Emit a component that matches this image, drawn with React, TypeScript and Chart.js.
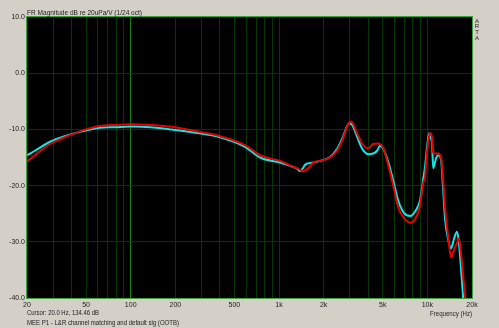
import React, { useEffect, useRef } from 'react';
import { Chart, registerables } from 'chart.js';

Chart.register(...registerables);

// Frequency points (Hz)
const freqHz = [
  20, 22.6, 28.6, 36, 46, 62, 78, 100, 135, 184, 272, 400, 590, 745, 1016, 1187, 1323, 1387, 1450, 1498,
  1618, 1697, 1891, 2209, 2462, 2703, 2876, 2968, 3050, 3158, 3360, 3631, 3986, 4308, 4582, 4802, 5030,
  5438, 5876, 6350, 6970, 7650, 8266, 8933, 9360, 9656, 9961, 10274, 10500, 10764, 10940, 11458, 11818,
  12378, 12700, 13172, 13800, 14458, 15100, 15868, 16294, 16626, 17420, 17970, 18500,
];

// Cyan trace (dB)
const cyanDb = [
  -14.6, -13.8, -12.2, -11.2, -10.4, -9.7, -9.6, -9.5, -9.6, -10.0, -10.6, -11.4, -13.1, -15.0, -15.9, -16.5, -17.0, -17.4, -16.9, -16.3,
  -16.0, -15.9, -15.6, -14.9, -13.5, -11.3, -9.4, -8.9, -9.0, -9.5, -11.3, -13.4, -14.4, -14.3, -13.8, -12.9, -13.4,
  -15.7, -19.0, -22.6, -24.9, -25.4, -24.6, -22.6, -19.0, -16.6, -13.1, -10.7, -11.5, -12.5, -16.9, -15.1, -14.6,
  -15.4, -19.5, -26.0, -29.5, -31.2, -29.5, -28.2, -30.0, -32.6, -39.8, -44.0, -50.0,
];

// Red trace (dB)
const redDb = [
  -15.7, -14.6, -12.6, -11.4, -10.3, -9.4, -9.2, -9.1, -9.2, -9.5, -10.3, -11.2, -12.8, -14.6, -15.6, -16.4, -16.9, -17.2, -17.4, -17.3,
  -16.6, -15.9, -15.6, -15.0, -13.8, -11.6, -9.5, -8.8, -8.6, -9.0, -10.7, -12.5, -13.4, -12.6, -12.5, -12.6, -13.2,
  -16.3, -19.9, -23.8, -25.8, -26.6, -26.0, -23.5, -19.6, -18.4, -14.0, -11.2, -10.7, -11.6, -14.3, -14.3, -14.3,
  -15.1, -18.0, -24.0, -29.0, -32.8, -31.5, -30.2, -29.4, -30.5, -36.0, -39.8, -45.0,
];

const xLabelValues = [20, 50, 100, 200, 500, 1000, 2000, 5000, 10000, 20000];
const xLabelTexts = ['20', '50', '100', '200', '500', '1k', '2k', '5k', '10k', '20k'];
const yTickValues = [10, 0, -10, -20, -30, -40];

const titleText = 'FR Magnitude dB re 20uPa/V (1/24 oct)';
const cursorText = 'Cursor: 20.0 Hz, 134.46 dB';
const noteText = 'MEE P1 - L&R channel matching and default sig (OOTB)';
const xAxisTitle = 'Frequency (Hz)';
const brandLetters = ['A', 'R', 'T', 'A'];

const FONT = '"Liberation Sans", Arial, sans-serif';

export default function App() {
  const ref = useRef<HTMLCanvasElement>(null);

  useEffect(() => {
    document.body.style.margin = '0';
    const canvas = ref.current;
    if (!canvas) return;

    const gridVals: number[] = [];
    for (let d = 10; d <= 10000; d *= 10) {
      for (let m = 1; m <= 9; m++) {
        const v = m * d;
        if (v >= 20 && v <= 20000) gridVals.push(v);
      }
    }

    const decor = {
      id: 'decor',
      beforeDraw(chart: any) {
        const { ctx, chartArea: a } = chart;
        ctx.save();
        ctx.fillStyle = '#d4d0c8';
        ctx.fillRect(0, 0, chart.width, chart.height);
        ctx.fillStyle = '#000000';
        ctx.fillRect(a.left, a.top, a.right - a.left, a.bottom - a.top);
        ctx.restore();
      },
      afterDraw(chart: any) {
        const { ctx, chartArea: a } = chart;
        ctx.save();
        ctx.strokeStyle = '#3c9e3c';
        ctx.lineWidth = 1;
        ctx.strokeRect(a.left - 0.5, a.top - 0.5, a.right - a.left + 1, a.bottom - a.top + 1);
        ctx.fillStyle = '#222222';
        ctx.font = `8px ${FONT}`;
        ctx.textBaseline = 'middle';
        ctx.textAlign = 'left';
        ctx.fillText(titleText, a.left, 12.5, 115);
        ctx.fillText(cursorText, a.left, 313, 72);
        ctx.fillText(noteText, a.left, 322.5, 152);
        ctx.textAlign = 'right';
        ctx.fillText(xAxisTitle, a.right, 314, 42);
        ctx.textAlign = 'center';
        ctx.font = `6px ${FONT}`;
        brandLetters.forEach((ch, i) => {
          ctx.fillText(ch, a.right + 5, 21 + i * 5.8);
        });
        ctx.restore();
      },
    };

    const chart = new Chart(canvas, {
      type: 'line',
      data: {
        datasets: [
          {
            label: 'red',
            data: freqHz.map((f, i) => ({ x: f, y: redDb[i] })),
            borderColor: '#e80000',
            borderWidth: 2,
            pointRadius: 0,
            cubicInterpolationMode: 'monotone',
          },
          {
            label: 'cyan',
            data: freqHz.map((f, i) => ({ x: f, y: cyanDb[i] })),
            borderColor: '#14e6e6',
            borderWidth: 2,
            pointRadius: 0,
            cubicInterpolationMode: 'monotone',
          },
        ],
      },
      options: {
        responsive: false,
        animation: false,
        events: [],
        layout: { padding: { top: 17, right: 27, left: 0, bottom: 0 } },
        plugins: { legend: { display: false }, tooltip: { enabled: false } },
        scales: {
          x: {
            type: 'logarithmic',
            min: 20,
            max: 20000,
            afterBuildTicks: (scale: any) => {
              scale.ticks = gridVals.map((v) => ({ value: v }));
            },
            afterFit: (scale: any) => {
              scale.height = 30;
            },
            border: { display: false },
            grid: {
              drawTicks: false,
              color: (ctx: any) => (ctx.tick && ctx.tick.value === 100 ? '#17821a' : '#083508'),
              lineWidth: 1,
            },
            ticks: {
              autoSkip: false,
              maxRotation: 0,
              minRotation: 0,
              padding: 3,
              color: '#222222',
              font: { family: FONT, size: 7 },
              callback: (value: any) => {
                const i = xLabelValues.indexOf(Number(value));
                return i >= 0 ? xLabelTexts[i] : '';
              },
            },
          },
          y: {
            type: 'linear',
            min: -40,
            max: 10,
            afterBuildTicks: (scale: any) => {
              scale.ticks = yTickValues.map((v) => ({ value: v }));
            },
            afterFit: (scale: any) => {
              scale.width = 27;
            },
            border: { display: false },
            grid: { drawTicks: false, color: '#083508', lineWidth: 1 },
            ticks: {
              padding: 2,
              color: '#222222',
              font: { family: FONT, size: 7 },
              callback: (value: any) => Number(value).toFixed(1),
            },
          },
        },
      },
      plugins: [decor],
    } as any);

    return () => chart.destroy();
  }, []);

  return (
    <div style={{ width: 499, height: 328 }}>
      <canvas ref={ref} width={499} height={328} style={{ display: 'block', width: 499, height: 328 }} />
    </div>
  );
}
